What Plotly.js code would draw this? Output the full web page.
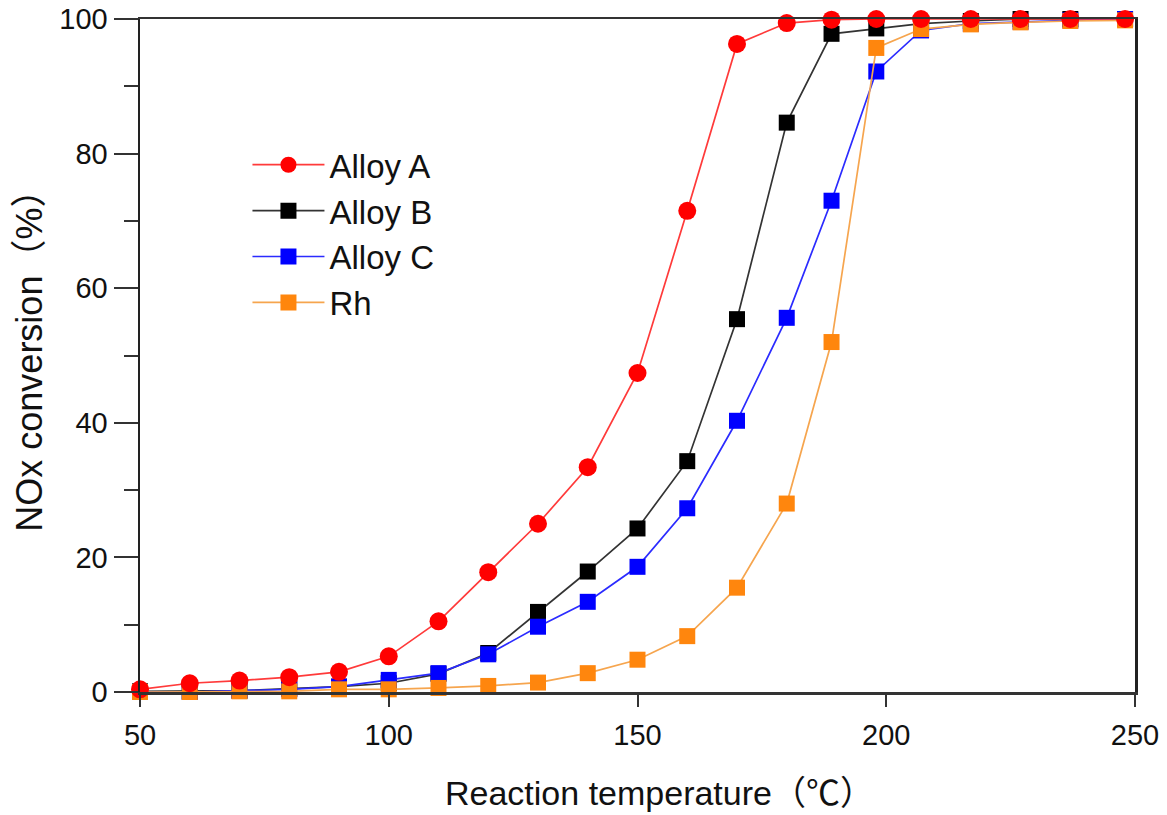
<!DOCTYPE html>
<html>
<head>
<meta charset="utf-8">
<script src="https://cdn.plot.ly/plotly-3.0.1.min.js"></script>
<style>html,body{margin:0;padding:0;background:#fff;}#chart{width:1167px;height:815px;}</style>
</head>
<body>
<div id="chart"></div>
<script>
// Reaction temperature (°C)
const temps = [50,60,70,80,90,100,110,120,130,140,150,160,170,180,189,198,207,217,227,237,248];
// NOx conversion (%)
const alloyA = [0.4,1.3,1.7,2.2,3.0,5.3,10.5,17.8,25.0,33.4,47.4,71.5,96.3,99.4,99.9,100,100,100,100,100,100];
const alloyB = [0.1,0.1,0.2,0.5,0.8,1.3,2.7,5.8,11.9,17.9,24.3,34.3,55.4,84.6,97.8,98.6,99.3,99.7,100,100,100];
const alloyC = [0,0,0.2,0.4,0.8,1.8,2.8,5.6,9.7,13.4,18.6,27.3,40.3,55.6,73.0,92.2,98.3,99.3,99.6,99.8,100];
const rh     = [0,0,0.1,0.1,0.4,0.4,0.6,0.9,1.4,2.8,4.8,8.3,15.5,28.0,52.0,95.7,98.5,99.2,99.5,99.7,99.8];

const seriesNames = ["Alloy A","Alloy B","Alloy C","Rh"];
const xTickVals = [50,100,150,200,250];
const yTickVals = [0,20,40,60,80,100];
const xTitle = "Reaction temperature（℃）";
const yTitle = "NOx conversion（%）";

const FONT = "Liberation Sans, Arial, Noto Sans CJK JP, sans-serif";

function tr(name, y, lineColor, markerColor, symbol, rank) {
  return {
    x: temps, y: y, name: name, type: "scatter", mode: "lines+markers",
    line: {color: lineColor, width: 1.7},
    marker: {color: markerColor, size: symbol === "circle" ? 18 : 16, symbol: symbol, line: {width: 0}},
    cliponaxis: false, legendrank: rank
  };
}

const data = [
  tr(seriesNames[1], alloyB, "#333333", "#000000", "square", 2),
  tr(seriesNames[2], alloyC, "#2b2bff", "#0000ff", "square", 3),
  tr(seriesNames[3], rh, "#f6a54e", "#ff860d", "square", 4),
  tr(seriesNames[0], alloyA, "#ff3a3a", "#ff0000", "circle", 1)
];

const layout = {
  width: 1167, height: 815,
  margin: {l: 140, r: 32, t: 19, b: 123},
  paper_bgcolor: "#ffffff", plot_bgcolor: "#ffffff",
  font: {family: FONT, color: "#111111"},
  showlegend: true,
  legend: {
    x: 0.108, y: 0.825, xanchor: "left", yanchor: "top",
    bgcolor: "rgba(0,0,0,0)", borderwidth: 0,
    itemwidth: 72,
    font: {size: 33, family: FONT, color: "#111111"},
    tracegroupgap: 0
  },
  annotations: [
    {text: xTitle, xref: "paper", yref: "paper", x: 0.522, y: -0.15, xanchor: "center", yanchor: "middle",
     showarrow: false, font: {size: 34, family: FONT, color: "#111111"}},
    {text: yTitle, xref: "paper", yref: "paper", x: -0.111, y: 0.505, xanchor: "center", yanchor: "middle",
     textangle: -90, showarrow: false, font: {size: 36, family: FONT, color: "#111111"}}
  ],
  xaxis: {
    range: [50, 250], tickvals: xTickVals, ticktext: xTickVals.map(String),
    ticks: "outside", ticklen: 12, tickwidth: 2, tickcolor: "#333333",
    showline: true, linecolor: "#333333", linewidth: 2.5, mirror: true,
    showgrid: false, zeroline: false,
    tickfont: {size: 29, family: FONT, color: "#111111"},
    ticklabelstandoff: 4,
    automargin: false
  },
  yaxis: {
    range: [0, 100], tickvals: yTickVals, ticktext: yTickVals.map(String),
    ticks: "outside", ticklen: 24, tickwidth: 2, tickcolor: "#333333",
    minor: {dtick: 10, tick0: 0, ticks: "outside", ticklen: 14, tickwidth: 2, tickcolor: "#333333", showgrid: false},
    showline: true, linecolor: "#222222", linewidth: 2.5, mirror: true,
    showgrid: false, zeroline: false,
    tickfont: {size: 29, family: FONT, color: "#111111"},
    automargin: false
  }
};

Plotly.newPlot("chart", data, layout, {displayModeBar: false, staticPlot: true});
</script>
</body>
</html>
